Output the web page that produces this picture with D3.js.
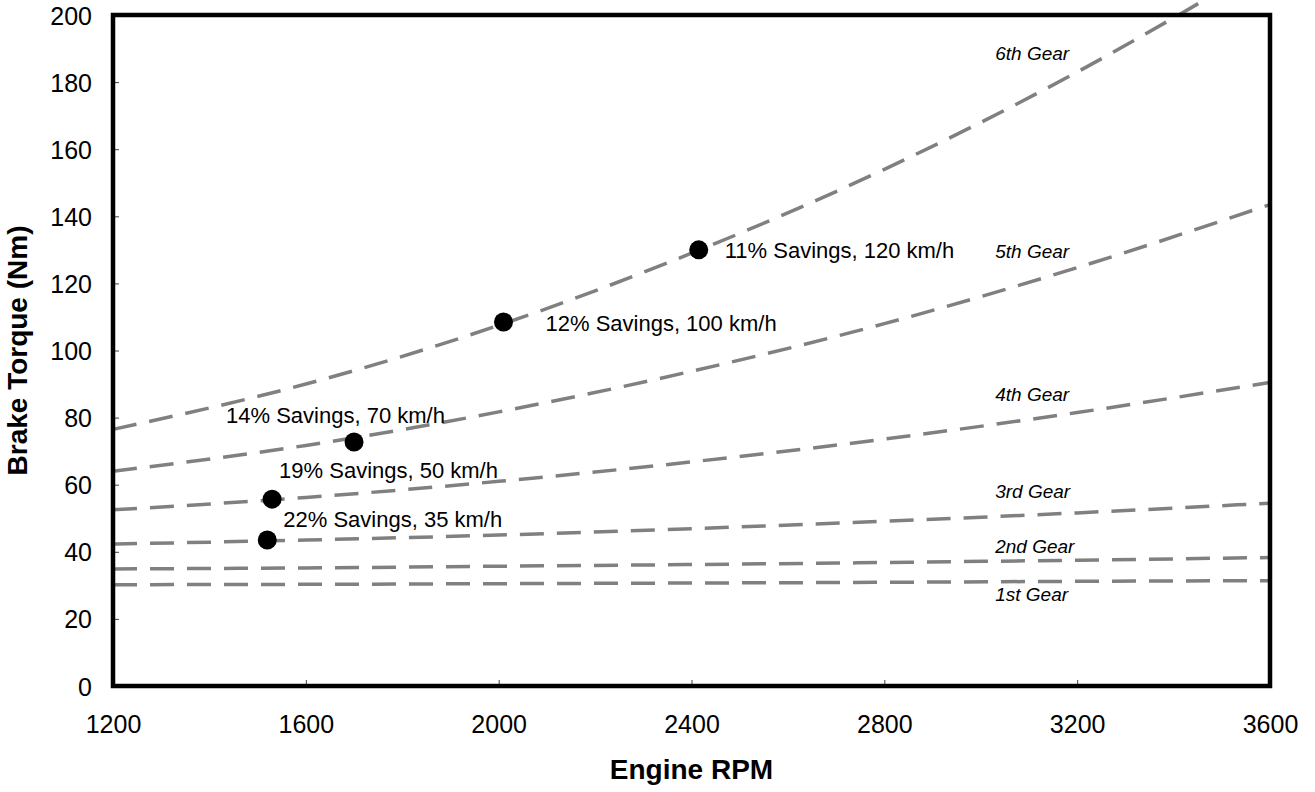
<!DOCTYPE html>
<html>
<head>
<meta charset="utf-8">
<script src="https://cdn.jsdelivr.net/npm/d3@7/dist/d3.min.js"></script>
<style>
  body { margin: 0; background: #fff; }
  svg { font-family: "Liberation Sans", Arial, sans-serif; }
</style>
</head>
<body>
<script>
// data
var rpmTicks = [1200, 1600, 2000, 2400, 2800, 3200, 3600];
var torqueTicks = [0, 20, 40, 60, 80, 100, 120, 140, 160, 180, 200];

var gearRpm = [1200, 1600, 2000, 2400, 2800, 3200, 3600];
var gear1 = [30.2, 30.3, 30.5, 30.7, 30.9, 31.2, 31.4];
var gear2 = [34.9, 35.2, 35.7, 36.2, 36.8, 37.5, 38.3];
var gear3 = [42.3, 43.5, 45.0, 46.9, 49.1, 51.6, 54.5];
var gear4 = [52.5, 56.2, 61.0, 66.8, 73.6, 81.5, 90.5];
var gear5 = [64.0, 71.7, 81.7, 93.8, 108.0, 124.7, 143.5];
var gear6Rpm = [1200, 1600, 2000, 2400, 2800, 3200, 3480];
var gear6 = [76.5, 90.0, 107.5, 129.0, 154.0, 183.0, 205.8];
var gearNames = ['1st Gear', '2nd Gear', '3rd Gear', '4th Gear', '5th Gear', '6th Gear'];

var savingsRpm = [1520, 1530, 1700, 2010, 2415];
var savingsTorque = [43.5, 55.7, 72.7, 108.5, 130];
var savingsLabels = ['22% Savings, 35 km/h', '19% Savings, 50 km/h', '14% Savings, 70 km/h',
                     '12% Savings, 100 km/h', '11% Savings, 120 km/h'];

// layout
var width = 1315, height = 792;
var margin = {top: 15, right: 45, bottom: 106, left: 113};
var w = width - margin.left - margin.right;
var h = height - margin.top - margin.bottom;

// label placement (pixels, relative to each marker)
var labelOffsets = [[16, -13], [7, -21], [-128, -19], [42, 9], [26, 8]];
// gear label anchor: rpm and torque at baseline
var gearLabelRpm = 3030;
var gearLabelTorque = [25.3, 39.6, 56.0, 85.0, 127.7, 186.5];

var svg = d3.select('body').append('svg')
            .attr('width', width)
            .attr('height', height);

var xScale = d3.scaleLinear().domain([1200, 3600]).range([0, w]);
var yScale = d3.scaleLinear().domain([0, 200]).range([h, 0]);

var focus = svg.append('g')
               .attr('transform', 'translate(' + margin.left + ',' + margin.top + ')');

// axes, ticks pointing inward
var xAxis = d3.axisBottom(xScale).tickValues(rpmTicks).tickFormat(d3.format('d'))
              .tickSize(-6).tickPadding(47);
var yAxis = d3.axisLeft(yScale).tickValues(torqueTicks).tickFormat(d3.format('d'))
              .tickSize(-6).tickPadding(21);

var gx = focus.append('g')
              .attr('class', 'axis axis--x')
              .attr('transform', 'translate(0,' + h + ')')
              .call(xAxis);
var gy = focus.append('g')
              .attr('class', 'axis axis--y')
              .call(yAxis);

[gx, gy].forEach(function(g) {
  g.select('.domain').remove();
  g.selectAll('line').attr('stroke', '#444').attr('stroke-width', 1);
  g.selectAll('text').attr('fill', '#000').style('font-size', '25px');
});
gx.selectAll('text').attr('dy', 0);
gy.selectAll('text').attr('dy', '0.36em');

// gear curves
var line = d3.line()
             .x(function(d) { return xScale(d[0]); })
             .y(function(d) { return yScale(d[1]); })
             .curve(d3.curveMonotoneX);

var gearSeries = [gear1, gear2, gear3, gear4, gear5].map(function(vals) {
  return vals.map(function(v, i) { return [gearRpm[i], v]; });
});
gearSeries.push(gear6.map(function(v, i) { return [gear6Rpm[i], v]; }));

focus.selectAll('.gear')
     .data(gearSeries)
     .enter()
     .append('path')
     .attr('class', 'gear')
     .attr('d', line)
     .attr('fill', 'none')
     .attr('stroke', '#808080')
     .attr('stroke-width', 3.5)
     .attr('stroke-dasharray', '24,13');

focus.selectAll('.gear-label')
     .data(gearNames)
     .enter()
     .append('text')
     .attr('class', 'gear-label')
     .attr('x', xScale(gearLabelRpm))
     .attr('y', function(d, i) { return yScale(gearLabelTorque[i]); })
     .style('font-size', '19px')
     .style('font-style', 'italic')
     .text(function(d) { return d; });

// plot frame
focus.append('rect')
     .attr('width', w)
     .attr('height', h)
     .attr('fill', 'none')
     .attr('stroke', '#000')
     .attr('stroke-width', 4.5);

// savings markers
focus.selectAll('.point')
     .data(savingsRpm)
     .enter()
     .append('circle')
     .attr('class', 'point')
     .attr('cx', function(d) { return xScale(d); })
     .attr('cy', function(d, i) { return yScale(savingsTorque[i]); })
     .attr('r', 9.5)
     .attr('fill', '#000');

focus.selectAll('.savings-label')
     .data(savingsLabels)
     .enter()
     .append('text')
     .attr('class', 'savings-label')
     .attr('x', function(d, i) { return xScale(savingsRpm[i]) + labelOffsets[i][0]; })
     .attr('y', function(d, i) { return yScale(savingsTorque[i]) + labelOffsets[i][1]; })
     .style('font-size', '22px')
     .text(function(d) { return d; });

// axis titles
svg.append('text')
   .attr('text-anchor', 'middle')
   .attr('transform', 'translate(' + (margin.left + w / 2) + ',779)')
   .style('font-size', '28px')
   .style('font-weight', 'bold')
   .text('Engine RPM');
svg.append('text')
   .attr('text-anchor', 'middle')
   .attr('transform', 'translate(27,' + (margin.top + h / 2) + ')rotate(-90)')
   .style('font-size', '28px')
   .style('font-weight', 'bold')
   .text('Brake Torque (Nm)');
</script>
</body>
</html>
